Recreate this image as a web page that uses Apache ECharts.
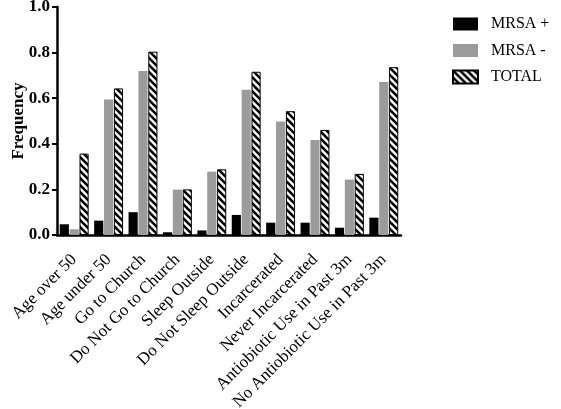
<!DOCTYPE html>
<html>
<head>
<meta charset="utf-8">
<script src="https://cdn.jsdelivr.net/npm/echarts@6/dist/echarts.min.js"></script>
<style>
  html, body { margin: 0; padding: 0; background: #fff; }
  #chart { width: 561px; height: 409px; }
</style>
</head>
<body>
<div id="chart"></div>
<script>
  var categories = ['Age over 50', 'Age under 50', 'Go to Church', 'Do Not Go to Church',
    'Sleep Outside', 'Do Not Sleep Outside', 'Incarcerated', 'Never Incarcerated',
    'Antiobiotic Use in Past 3m', 'No Antiobiotic Use in Past 3m'];
  var mrsaPos = [0.047, 0.063, 0.100, 0.012, 0.020, 0.088, 0.054, 0.054, 0.032, 0.076];
  var mrsaNeg = [0.025, 0.594, 0.719, 0.199, 0.278, 0.637, 0.498, 0.417, 0.243, 0.671];
  var total = [0.357, 0.643, 0.804, 0.200, 0.288, 0.716, 0.543, 0.461, 0.268, 0.736];
  var yTicks = [0, 0.2, 0.4, 0.6, 0.8, 1.0];

  // hatch pattern for TOTAL bars
  function makeHatch() {
    var c = document.createElement('canvas');
    c.width = 7; c.height = 7;
    var ctx = c.getContext('2d');
    ctx.fillStyle = '#fff';
    ctx.fillRect(0, 0, 7, 7);
    ctx.strokeStyle = '#000';
    ctx.lineWidth = 2.6;
    [-7, 0, 7].forEach(function (k) {
      ctx.beginPath();
      ctx.moveTo(k - 1, -1);
      ctx.lineTo(k + 8, 8);
      ctx.stroke();
    });
    return c;
  }

  var serif = '"Liberation Serif", "DejaVu Serif", serif';
  var myChart = echarts.init(document.getElementById('chart'));
  var option = {
    animation: false,
    grid: { left: 57, right: 160, top: 7, bottom: 174, containLabel: false, outerBoundsMode: 'none' },
    legend: {
      left: 447,
      top: 11,
      orient: 'vertical',
      icon: 'rect',
      itemWidth: 25,
      itemHeight: 13,
      itemGap: 10.5,
      textStyle: { fontFamily: serif, fontSize: 16, color: '#000', padding: [0, 0, 0, 8] },
      data: ['MRSA +', 'MRSA -', 'TOTAL']
    },
    xAxis: {
      type: 'category',
      data: categories,
      axisLine: { lineStyle: { color: '#000', width: 2.5 } },
      axisTick: { alignWithLabel: true, length: 6, lineStyle: { color: '#000', width: 2 } },
      axisLabel: { rotate: 45, interval: 0, margin: 22, fontFamily: serif, fontSize: 17, color: '#000' }
    },
    yAxis: {
      type: 'value',
      min: 0,
      max: 1,
      interval: 0.2,
      name: 'Frequency',
      nameLocation: 'middle',
      nameGap: 30,
      nameMoveOverlap: false,
      nameTextStyle: { fontFamily: serif, fontSize: 17, fontWeight: 'bold', color: '#000' },
      splitLine: { show: false },
      axisLine: { show: true, lineStyle: { color: '#000', width: 2.5 } },
      axisTick: { show: true, length: 5, lineStyle: { color: '#000', width: 2 } },
      axisLabel: {
        fontFamily: serif, fontSize: 17, fontWeight: 'bold', color: '#000', margin: 7,
        formatter: function (v) { return yTicks.indexOf(Math.round(v * 10) / 10) >= 0 ? v.toFixed(1) : ''; }
      }
    },
    series: [
      {
        name: 'MRSA +', type: 'bar', data: mrsaPos,
        barCategoryGap: '16%', barGap: '8%',
        itemStyle: { color: '#000' }
      },
      {
        name: 'MRSA -', type: 'bar', data: mrsaNeg,
        barCategoryGap: '16%', barGap: '8%',
        itemStyle: { color: '#9b9b9b' }
      },
      {
        name: 'TOTAL', type: 'bar', data: total,
        barCategoryGap: '16%', barGap: '8%',
        itemStyle: { color: { image: makeHatch(), repeat: 'repeat' }, borderColor: '#000', borderWidth: 1 }
      }
    ]
  };
  myChart.setOption(option);
</script>
</body>
</html>
